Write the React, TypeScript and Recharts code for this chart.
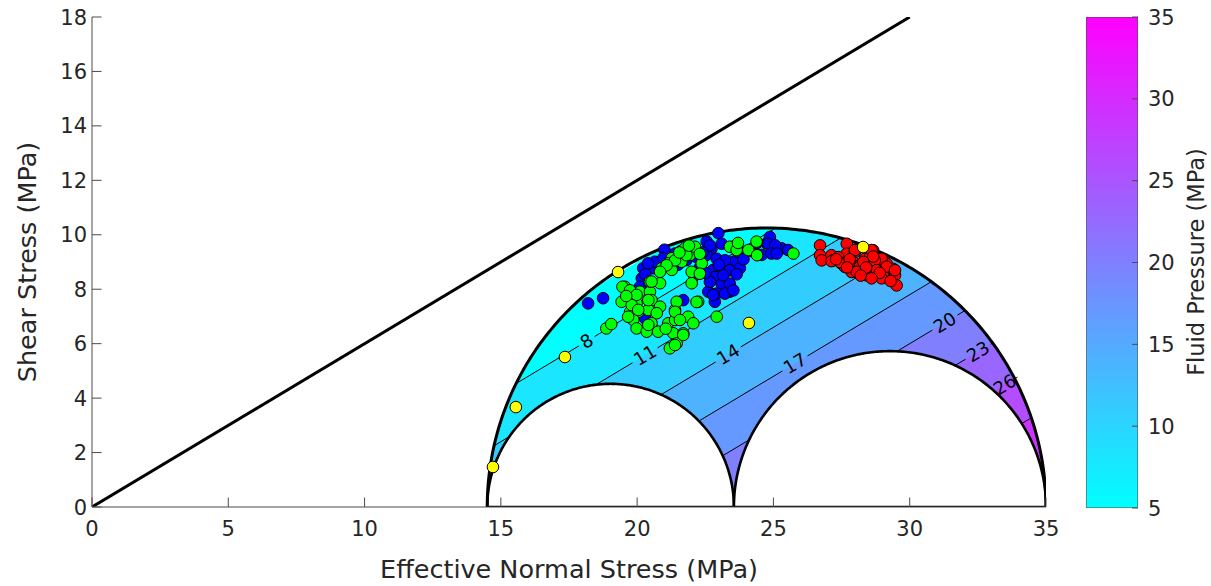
import React from 'react';
import { ComposedChart, Line, Scatter, XAxis, YAxis } from 'recharts';

// ---------------- data ----------------
const principalStresses = [14.5, 23.55, 35.0]; // sigma3, sigma2, sigma1 (effective, MPa)
const frictionCoefficient = [0.6];
const xTicks = [0, 5, 10, 15, 20, 25, 30, 35];
const yTicks = [0, 2, 4, 6, 8, 10, 12, 14, 16, 18];
const colorbarTicks = [5, 10, 15, 20, 25, 30, 35];
const colorRange = [5, 35];
const fillLevels = [5, 8, 11, 14, 17, 20, 23, 26, 29, 32];
const contourLevels = [8, 11, 14, 17, 20, 23, 26, 29];
const labelLevels = [8, 11, 14, 17, 20, 23, 26];
const labelXs = [18.15, 20.29, 23.34, 25.79, 31.29, 32.51, 33.49];

const bluePoints: number[][] = [
  [18.2, 7.48], [18.75, 7.67], [20.22, 8.77], [20.17, 8.4], [20.1, 8.09], [20.29, 6.93], [20.84, 9.01],
  [21.08, 9.2], [21.39, 9.31], [21.69, 7.6], [22.55, 9.75], [22.98, 10.06], [22.73, 9.5], [22.55, 9.26],
  [22.79, 8.71], [22.92, 8.4], [22.61, 7.91], [22.85, 7.54], [23.16, 8.09], [23.4, 7.91], [23.28, 8.85],
  [23.53, 9.01], [23.77, 8.77], [24.75, 9.68], [24.99, 9.37], [24.57, 9.26], [25.3, 9.5], [25.54, 9.44],
  [22.0, 9.5], [22.18, 9.18], [21.81, 9.07], [20.59, 8.77], [22.67, 9.61], [23.1, 9.67], [22.92, 9.12],
  [23.22, 9.06], [23.4, 8.7], [22.85, 8.45], [23.1, 8.2], [23.4, 8.2], [22.67, 8.27], [22.92, 7.84],
  [23.22, 7.84], [23.53, 7.96], [23.16, 8.51], [23.71, 9.37], [24.87, 9.92], [24.81, 9.67], [25.06, 9.61],
  [24.93, 9.31], [25.12, 9.31], [22.79, 7.79], [22.4, 9.35], [21.9, 9.55], [21.6, 9.4], [21.3, 9.1],
  [21.0, 9.45], [20.65, 9.01], [20.96, 9.14], [20.4, 8.95], [21.5, 8.9], [22.3, 8.8], [22.1, 8.5],
  [23.9, 9.1], [24.2, 9.4], [23.6, 9.6], [24.4, 9.7], [20.3, 8.55], [20.45, 8.25], [22.5, 8.6],
  [23.0, 8.9], [23.65, 8.55],
];

const greenPoints: number[][] = [
  [19.55, 8.09], [19.43, 7.54], [19.8, 7.79], [20.1, 7.91], [20.47, 7.91], [20.53, 7.6], [19.98, 7.48],
  [20.84, 7.36], [19.74, 7.17], [20.04, 7.17], [20.41, 7.24], [20.72, 7.12], [19.86, 6.87], [20.53, 6.75],
  [19.98, 6.56], [20.35, 6.44], [20.77, 6.44], [18.87, 6.56], [19.05, 6.72], [21.14, 6.75], [21.39, 7.24],
  [21.39, 6.87], [21.33, 6.38], [21.69, 6.38], [21.2, 5.83], [21.45, 6.01], [20.84, 8.22], [20.47, 8.28],
  [21.87, 6.99], [20.9, 8.77], [21.27, 9.14], [21.63, 9.01], [21.75, 9.5], [21.94, 9.26], [22.0, 8.64],
  [21.14, 8.95], [21.27, 8.71], [22.12, 9.56], [21.39, 9.06], [21.08, 8.88], [20.84, 8.64], [21.81, 9.25],
  [22.37, 8.95], [22.3, 8.57], [22.0, 8.22], [23.4, 9.56], [23.65, 9.44], [24.08, 9.44], [24.38, 9.75],
  [25.73, 9.31], [20.53, 8.28], [19.46, 8.09], [19.74, 7.96], [19.98, 7.79], [20.41, 7.6], [19.8, 7.42],
  [20.04, 7.24], [19.67, 6.99], [20.41, 6.69], [21.45, 7.54], [21.39, 7.17], [21.57, 6.87], [22.06, 6.75],
  [22.24, 7.54], [22.92, 6.99], [21.69, 6.32], [21.39, 5.95], [21.9, 9.6], [21.55, 9.35], [22.3, 9.3],
  [23.7, 9.7], [24.4, 9.25], [22.18, 7.53], [19.6, 7.75], [21.05, 6.55],
];

const redPoints: number[][] = [
  [26.71, 9.61], [26.71, 9.25], [26.77, 9.06], [27.13, 9.25], [27.19, 9.06], [27.69, 9.67], [27.69, 9.31],
  [27.38, 9.18], [27.5, 8.94], [27.99, 9.37], [27.93, 9.0], [28.17, 8.88], [28.36, 9.12], [28.54, 9.18],
  [28.66, 9.43], [28.6, 8.94], [28.79, 8.75], [29.03, 8.88], [29.15, 8.94], [29.21, 8.7], [29.39, 8.75],
  [29.46, 8.51], [29.52, 8.14], [28.48, 8.63], [28.79, 8.57], [29.03, 8.51], [28.17, 8.63], [27.87, 8.63],
  [27.62, 8.82], [28.97, 9.12], [28.72, 9.06], [27.99, 9.44], [28.6, 9.44], [28.66, 9.2], [29.15, 8.83],
  [29.46, 8.7], [27.13, 9.03], [27.44, 8.99], [28.17, 8.83], [28.79, 8.7], [28.97, 8.4], [28.42, 8.51],
  [28.05, 8.64], [27.3, 9.1], [27.8, 9.1], [28.3, 9.0], [28.4, 8.8], [27.7, 8.8], [28.9, 8.6],
  [28.2, 8.5], [28.6, 8.4], [29.3, 8.3],
];

const yellowPoints: number[][] = [
  [14.71, 1.47], [15.55, 3.67], [17.35, 5.51], [19.3, 8.63], [24.1, 6.76], [28.29, 9.55],
];

// ---------------- derived geometry ----------------
const MU = frictionCoefficient[0];
const [S3, S2, S1] = principalStresses;
const X_MAX = xTicks[xTicks.length - 1];
const Y_MAX = yTicks[yTicks.length - 1];
const bigC = (S1 + S3) / 2, bigR = (S1 - S3) / 2;
const leftC = (S2 + S3) / 2, leftR = (S2 - S3) / 2;
const rightC = (S1 + S2) / 2, rightR = (S1 - S2) / 2;

type P = { x: number; y: number | null };

function arcPoints(c: number, r: number, n = 240): P[] {
  const pts: P[] = [];
  for (let i = 0; i <= n; i++) {
    const th = Math.PI * (1 - i / n);
    pts.push({ x: c + r * Math.cos(th), y: Math.max(0, r * Math.sin(th)) });
  }
  return pts;
}

function clipAbove(poly: P[], a: number): P[] {
  // keep region where fluid pressure  x - y/MU >= a  <=>  MU*(x-a) - y >= 0
  const f = (p: P) => MU * (p.x - a) - (p.y as number);
  const out: P[] = [];
  const n = poly.length;
  for (let i = 0; i < n; i++) {
    const p = poly[i], q = poly[(i + 1) % n];
    const fp = f(p), fq = f(q);
    if (fp >= 0) out.push(p);
    if ((fp >= 0) !== (fq >= 0)) {
      const t = fp / (fp - fq);
      out.push({ x: p.x + t * (q.x - p.x), y: (p.y as number) + t * ((q.y as number) - (p.y as number)) });
    }
  }
  if (out.length) out.push(out[0]);
  return out;
}

const bigArc = arcPoints(bigC, bigR);
const bandPolys = fillLevels.map((lv) => clipAbove(bigArc, lv));
const leftDisk = [...arcPoints(leftC, leftR), arcPoints(leftC, leftR)[0]];
const rightDisk = [...arcPoints(rightC, rightR), arcPoints(rightC, rightR)[0]];

function contourSegment(a: number): P[] {
  const A = 1 + MU * MU;
  const B = -2 * (bigC + MU * MU * a);
  const C = bigC * bigC + MU * MU * a * a - bigR * bigR;
  const disc = B * B - 4 * A * C;
  if (disc <= 0) return [];
  const x1 = (-B - Math.sqrt(disc)) / (2 * A);
  const x2 = (-B + Math.sqrt(disc)) / (2 * A);
  const lo = Math.max(x1, a), hi = x2;
  if (hi <= lo) return [];
  const yAt = (x: number) => MU * (x - a);
  const li = labelLevels.indexOf(a);
  if (li < 0) return [{ x: lo, y: yAt(lo) }, { x: hi, y: yAt(hi) }];
  const lx = labelXs[li];
  const g = 0.12 + 0.17 * String(a).length;
  return [
    { x: lo, y: yAt(lo) }, { x: lx - g, y: yAt(lx - g) }, { x: lx, y: null },
    { x: lx + g, y: yAt(lx + g) }, { x: hi, y: yAt(hi) },
  ];
}
const contourSegs = contourLevels.map(contourSegment);
const labelPoints = labelLevels.map((lv, i) => ({ x: labelXs[i], y: MU * (labelXs[i] - lv), label: String(lv) }));
const failureLine = [{ x: 0, y: 0 }, { x: Y_MAX / MU, y: Y_MAX }];
const toXY = (arr: number[][]) => arr.map(([x, y]) => ({ x, y }));
const colorbarRect = [
  { x: 0, y: colorRange[0] }, { x: 1, y: colorRange[0] }, { x: 1, y: colorRange[1] },
  { x: 0, y: colorRange[1] }, { x: 0, y: colorRange[0] },
];

function coolColor(v: number) {
  const t = Math.min(1, Math.max(0, (v - colorRange[0]) / (colorRange[1] - colorRange[0])));
  return `rgb(${Math.round(255 * t)},${Math.round(255 * (1 - t))},255)`;
}

// ---------------- styling ----------------
const FONT = '"DejaVu Sans", "Liberation Sans", sans-serif';
const TXT = '#262626';
const AXIS = '#4a4a4a';
const TICK_FS = 21;
const css =
  fillLevels.map((lv, i) => `.band-${i} path { fill: ${coolColor(lv)}; stroke: none; }`).join('\n') +
  '\n.white-disk path { fill: #ffffff; }' +
  '\n.cb-rect path { fill: url(#coolGrad); }';

const BottomTick = (props: any) => {
  const { x, y, payload } = props;
  return (
    <g>
      <line x1={x} y1={y} x2={x} y2={y - 9.5} stroke={AXIS} strokeWidth={1} />
      <text x={x} y={y + 29} textAnchor="middle" fontSize={TICK_FS} fontFamily={FONT} fill={TXT}>{payload.value}</text>
    </g>
  );
};
const LeftTick = (props: any) => {
  const { x, y, payload } = props;
  return (
    <g>
      <line x1={x} y1={y} x2={x + 9.5} y2={y} stroke={AXIS} strokeWidth={1} />
      <text x={x - 5} y={y} dy="0.36em" textAnchor="end" fontSize={TICK_FS} fontFamily={FONT} fill={TXT}>{payload.value}</text>
    </g>
  );
};
const TopTick = (props: any) => {
  const { x, y } = props;
  return <line x1={x} y1={y} x2={x} y2={y + 9.5} stroke={AXIS} strokeWidth={1} />;
};
const RightTick = (props: any) => {
  const { x, y } = props;
  return <line x1={x} y1={y} x2={x - 9.5} y2={y} stroke={AXIS} strokeWidth={1} />;
};
const CbTick = (props: any) => {
  const { x, y, payload } = props;
  return (
    <g>
      <line x1={x} y1={y} x2={x - 6} y2={y} stroke={AXIS} strokeWidth={1} />
      <text x={x + 10} y={y} dy="0.36em" textAnchor="start" fontSize={TICK_FS} fontFamily={FONT} fill={TXT}>{payload.value}</text>
    </g>
  );
};

const dotShape = (color: string) => (props: any) => (
  <circle cx={props.cx} cy={props.cy} r={5.8} fill={color} stroke="#000" strokeWidth={1} />
);
const ContourLabel = (props: any) => {
  const { cx, cy, payload } = props;
  const ang = (-Math.atan(MU) * 180) / Math.PI;
  return (
    <text x={cx} y={cy} dy="0.35em" transform={`rotate(${ang}, ${cx}, ${cy})`} textAnchor="middle"
      fontSize={18} fontFamily={FONT} fill="#000">{payload.label}</text>
  );
};

const lineCommon = { dataKey: 'y', dot: false, activeDot: false, isAnimationActive: false, type: 'linear' as const };

export default function App() {
  return (
    <div style={{ position: 'absolute', left: 0, top: 0, width: 1211, height: 586, background: '#fff', fontFamily: FONT }}>
      <style>{css}</style>
      <svg width={0} height={0} style={{ position: 'absolute' }}>
        <defs>
          <linearGradient id="coolGrad" x1="0" y1="1" x2="0" y2="0">
            <stop offset="0%" stopColor={coolColor(colorRange[0])} />
            <stop offset="100%" stopColor={coolColor(colorRange[1])} />
          </linearGradient>
        </defs>
      </svg>

      <div style={{ position: 'absolute', left: 0, top: 0 }}>
        <ComposedChart width={1060} height={586} margin={{ top: 17, right: 14, bottom: 0, left: 0 }}>
          <XAxis type="number" dataKey="x" domain={[0, X_MAX]} allowDataOverflow ticks={xTicks} interval={0}
            height={79} tickSize={0} tickMargin={0} tickLine={false} tick={BottomTick}
            axisLine={{ stroke: AXIS }} />
          <XAxis xAxisId="top" orientation="top" type="number" dataKey="x" domain={[0, X_MAX]} allowDataOverflow
            ticks={xTicks} interval={0} height={0} tickSize={0} tickMargin={0} tickLine={false} tick={TopTick}
            axisLine={{ stroke: AXIS }} />
          <YAxis type="number" dataKey="y" domain={[0, Y_MAX]} allowDataOverflow ticks={yTicks} interval={0}
            width={92} tickSize={0} tickMargin={0} tickLine={false} tick={LeftTick} axisLine={{ stroke: AXIS }} />
          <YAxis yAxisId="right" orientation="right" type="number" domain={[0, Y_MAX]} allowDataOverflow
            ticks={yTicks} interval={0} width={0} tickSize={0} tickMargin={0} tickLine={false} tick={RightTick}
            axisLine={{ stroke: AXIS }} />

          {bandPolys.map((poly, i) => (
            <Line key={`band-${i}`} {...lineCommon} className={`band band-${i}`} data={poly} stroke="none" />
          ))}
          {contourSegs.map((seg, i) => (
            <Line key={`ct-${i}`} {...lineCommon} data={seg} stroke="#000" strokeWidth={1} connectNulls={false} />
          ))}
          <Line {...lineCommon} className="white-disk" data={leftDisk} stroke="#000" strokeWidth={2.6} />
          <Line {...lineCommon} className="white-disk" data={rightDisk} stroke="#000" strokeWidth={2.6} />
          <Line {...lineCommon} data={bigArc} stroke="#000" strokeWidth={3} />
          <Line {...lineCommon} data={failureLine} stroke="#000" strokeWidth={3} />

          <Scatter data={toXY(bluePoints)} dataKey="y" shape={dotShape('#0000ff')} isAnimationActive={false} />
          <Scatter data={toXY(greenPoints)} dataKey="y" shape={dotShape('#00ff00')} isAnimationActive={false} />
          <Scatter data={toXY(redPoints)} dataKey="y" shape={dotShape('#ff0000')} isAnimationActive={false} />
          <Scatter data={toXY(yellowPoints)} dataKey="y" shape={dotShape('#ffff00')} isAnimationActive={false} />
          <Scatter data={labelPoints} dataKey="y" shape={ContourLabel} isAnimationActive={false} />
        </ComposedChart>
      </div>

      <div style={{ position: 'absolute', left: 1086, top: 0 }}>
        <ComposedChart width={125} height={586} margin={{ top: 17, right: 0, bottom: 78, left: 0 }}>
          <XAxis type="number" dataKey="x" domain={[0, 1]} allowDataOverflow hide height={0} />
          <YAxis type="number" dataKey="y" orientation="right" domain={colorRange} allowDataOverflow
            ticks={colorbarTicks} interval={0} width={73} tickSize={0} tickMargin={0} tickLine={false}
            axisLine={false} tick={CbTick} />
          <Line {...lineCommon} className="cb-rect" data={colorbarRect} stroke={AXIS} strokeWidth={1} />
        </ComposedChart>
      </div>

      <svg width={1211} height={586} style={{ position: 'absolute', left: 0, top: 0, pointerEvents: 'none' }}>
        <text x={569} y={578} textAnchor="middle" fontSize={25.5} fontFamily={FONT} fill={TXT}>
          Effective Normal Stress (MPa)
        </text>
        <text transform="translate(36, 262) rotate(-90)" textAnchor="middle" fontSize={25.5} fontFamily={FONT} fill={TXT}>
          Shear Stress (MPa)
        </text>
        <text transform="translate(1204, 262) rotate(-90)" textAnchor="middle" fontSize={22.5} fontFamily={FONT} fill={TXT}>
          Fluid Pressure (MPa)
        </text>
      </svg>
    </div>
  );
}
